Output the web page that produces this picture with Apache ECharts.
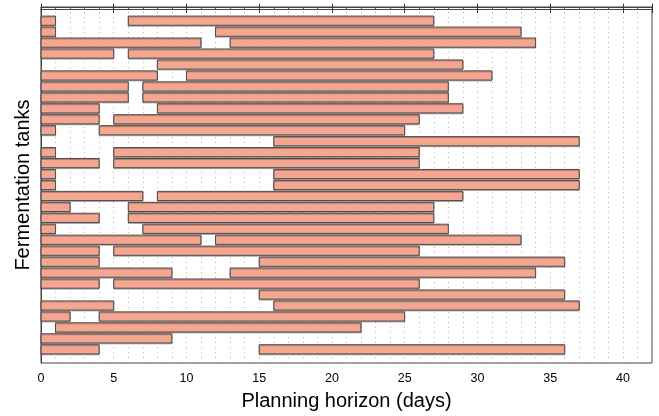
<!DOCTYPE html>
<html>
<head>
<meta charset="utf-8">
<script src="https://cdn.jsdelivr.net/npm/echarts@6/dist/echarts.min.js"></script>
<style>
  html, body { margin: 0; padding: 0; background: #fff; }
  #chart { width: 659px; height: 416px; }
</style>
</head>
<body>
<div id="chart"></div>
<script>
// one entry per task: tank row (1 = top), start day, end day
var tankRow   = [1, 1, 2, 2, 3, 3, 4, 4, 5, 6, 6, 7, 7, 8, 8, 9, 9, 10, 10, 11, 11,
                 12, 13, 13, 14, 14, 15, 15, 16, 16, 17, 17, 18, 18, 19, 19, 20, 20,
                 21, 21, 22, 22, 23, 23, 24, 24, 25, 25, 26, 27, 27, 28, 28, 29, 30, 31, 31];
var taskStart = [0, 6, 0, 12, 0, 13, 0, 6, 8, 0, 10, 0, 7, 0, 7, 0, 8, 0, 5, 0, 4,
                 16, 0, 5, 0, 5, 0, 16, 0, 16, 0, 8, 0, 6, 0, 6, 0, 7,
                 0, 12, 0, 5, 0, 15, 0, 13, 0, 5, 15, 0, 16, 0, 4, 1, 0, 0, 15];
var taskEnd   = [1, 27, 1, 33, 11, 34, 5, 27, 29, 8, 31, 6, 28, 6, 28, 4, 29, 4, 26, 1, 25,
                 37, 1, 26, 4, 26, 1, 37, 1, 37, 7, 29, 2, 27, 4, 27, 1, 28,
                 11, 33, 4, 26, 4, 36, 9, 34, 4, 26, 36, 5, 37, 2, 25, 22, 9, 4, 36];
var xTicks = [0, 5, 10, 15, 20, 25, 30, 35, 40];

var tasks = [];
for (var i = 0; i < tankRow.length; i++) {
  tasks.push([taskStart[i], taskEnd[i], tankRow[i]]);
}

var chart = echarts.init(document.getElementById('chart'));

var dotted = { show: true, lineStyle: { color: '#b4b4b4', type: [1, 4], width: 1 } };
var fontFam = '"Liberation Sans", Arial, sans-serif';

var option = {
  animation: false,
  grid: {
    left: 41, right: 7, top: 7, bottom: 50,
    show: true, borderColor: '#444', borderWidth: 1
  },
  xAxis: [{
    type: 'value',
    min: 0, max: 42, interval: 5,
    position: 'bottom',
    name: 'Planning horizon (days)',
    nameLocation: 'middle',
    nameGap: 28,
    nameTextStyle: { fontSize: 20, color: '#000', fontFamily: fontFam },
    axisLine: { show: true, lineStyle: { color: '#444' } },
    axisTick: { show: true, inside: true, length: 6, lineStyle: { color: '#333' } },
    minorTick: { show: true, splitNumber: 5, length: 2, lineStyle: { color: '#555' } },
    axisLabel: {
      color: '#000', fontSize: 12.5, margin: 9, fontFamily: fontFam,
      formatter: function (v) { return xTicks.indexOf(v) >= 0 ? String(v) : ''; }
    },
    splitLine: dotted,
    minorSplitLine: dotted
  }, {
    type: 'value',
    min: 0, max: 42, interval: 5,
    position: 'top',
    axisLine: { show: true, lineStyle: { color: '#444' } },
    axisTick: { show: true, inside: true, length: 6, lineStyle: { color: '#333' } },
    minorTick: { show: true, splitNumber: 5, length: 2, lineStyle: { color: '#555' } },
    axisLabel: { show: false },
    splitLine: { show: false }
  }],
  yAxis: {
    type: 'value',
    min: -0.25, max: 32.25,
    inverse: true,
    name: 'Fermentation tanks',
    nameLocation: 'middle',
    nameGap: 8,
    nameTextStyle: { fontSize: 20, color: '#000', fontFamily: fontFam },
    axisLine: { show: true, lineStyle: { color: '#444' } },
    axisTick: { show: false },
    axisLabel: { show: false },
    splitLine: { show: false }
  },
  series: [{
    type: 'custom',
    xAxisIndex: 0,
    encode: { x: [0, 1], y: 2 },
    data: tasks,
    renderItem: function (params, api) {
      var p0 = api.coord([api.value(0), api.value(2)]);
      var p1 = api.coord([api.value(1), api.value(2)]);
      var h = api.size([0, 0.84])[1];
      return {
        type: 'rect',
        shape: { x: p0[0], y: p0[1] - h / 2, width: p1[0] - p0[0], height: h },
        style: {
          fill: '#F4A690',
          stroke: '#4d4d4d',
          lineWidth: 1,
          shadowColor: 'rgba(0,0,0,0.25)',
          shadowOffsetY: 1,
          shadowBlur: 0
        }
      };
    }
  }]
};

chart.setOption(option);
</script>
</body>
</html>
